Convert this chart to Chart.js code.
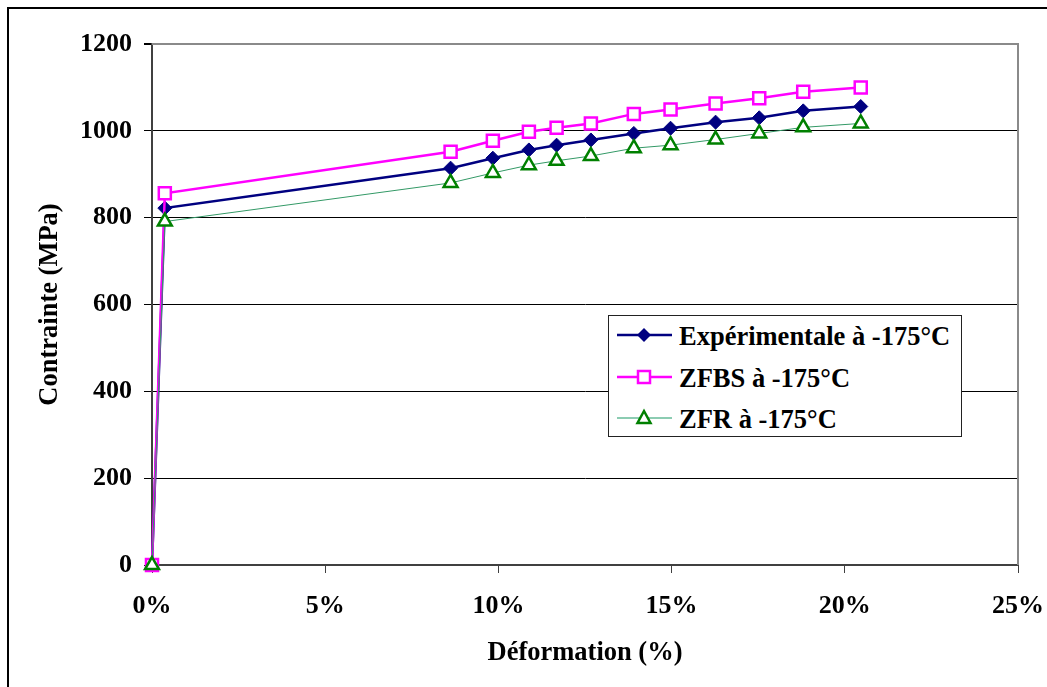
<!DOCTYPE html>
<html>
<head>
<meta charset="utf-8">
<script src="https://cdn.jsdelivr.net/npm/chart.js@4/dist/chart.umd.min.js"></script>
<style>
  html, body { margin: 0; padding: 0; background: #fff; overflow: hidden; }
  #wrap { position: relative; width: 1047px; height: 687px; }
  #frame { position: absolute; left: 7px; top: 7px; width: 1100px; height: 700px; border: 2px solid #000; box-sizing: border-box; pointer-events: none; }
  canvas { position: absolute; left: 0; top: 0; }
  #legend { position: absolute; left: 608px; top: 315px; width: 354px; height: 122px; box-sizing: border-box; border: 1px solid #222; background: #fff; font-family: "Liberation Serif", "Times New Roman", serif; font-weight: bold; font-size: 26.5px; color: #000; }
  .row { position: absolute; left: 0; width: 100%; }
  .row svg { position: absolute; left: 0; top: 0; }
  .row span { position: absolute; left: 70px; line-height: 26.5px; white-space: nowrap; }
</style>
</head>
<body>
<div id="wrap">
  <canvas id="c" width="1047" height="687"></canvas>
  <div id="frame"></div>
  <div id="legend"></div>
</div>
<script>
// ---- Data ----
const strain = [0, 0.37, 8.62, 9.84, 10.88, 11.68, 12.67, 13.91, 14.97, 16.27, 17.53, 18.80, 20.46];
const expValues = [0, 822, 914, 937, 956, 967, 979, 994, 1006, 1020, 1030, 1046, 1056];
const zfbsValues = [0, 856, 952, 977, 998, 1007, 1017, 1039, 1049, 1063, 1075, 1090, 1100];
const zfrValues = [0, 791, 880, 903, 921, 931, 942, 960, 967, 980, 994, 1008, 1017];
const seriesNames = ["Expérimentale à -175°C", "ZFBS à -175°C", "ZFR à -175°C"];
const xTickValues = [0, 5, 10, 15, 20, 25];
const yTickValues = [0, 200, 400, 600, 800, 1000, 1200];
const xTitle = "Déformation (%)";
const yTitle = "Contrainte (MPa)";

const FONT = '"Liberation Serif", "Times New Roman", serif';
const toPts = (ys) => ys.map((y, i) => ({ x: strain[i], y: y }));

const frame = {
  id: 'frame',
  beforeDatasetsDraw(chart) {
    const { ctx, chartArea: a } = chart;
    ctx.save();
    ctx.strokeStyle = '#8a8a8a';
    ctx.lineWidth = 2;
    ctx.beginPath();
    ctx.moveTo(a.left, a.top);
    ctx.lineTo(a.right, a.top);
    ctx.lineTo(a.right, a.bottom);
    ctx.stroke();
    ctx.restore();
  }
};

new Chart(document.getElementById('c'), {
  type: 'line',
  data: {
    datasets: [
      {
        label: seriesNames[0], data: toPts(expValues), order: 3,
        borderColor: '#000080', borderWidth: 2.5, tension: 0,
        pointStyle: 'rectRot', pointRadius: 7, pointBackgroundColor: '#000080',
        pointBorderColor: '#000080', pointBorderWidth: 1, clip: false
      },
      {
        label: seriesNames[1], data: toPts(zfbsValues), order: 2,
        borderColor: '#ff00ff', borderWidth: 2.5, tension: 0,
        pointStyle: 'rect', pointRadius: 8.5, pointBackgroundColor: '#ffffff',
        pointBorderColor: '#ff00ff', pointBorderWidth: 2.5, clip: false
      },
      {
        label: seriesNames[2], data: toPts(zfrValues), order: 1,
        borderColor: '#339966', borderWidth: 1, tension: 0,
        pointStyle: 'triangle', pointRadius: 8, pointBackgroundColor: '#ffffff',
        pointBorderColor: '#008000', pointBorderWidth: 2.5, clip: false
      }
    ]
  },
  options: {
    responsive: false,
    animation: false,
    devicePixelRatio: 1,
    layout: { padding: { left: 0, top: 44, right: 29, bottom: 0 } },
    plugins: { legend: { display: false }, tooltip: { enabled: false } },
    scales: {
      x: {
        type: 'linear', min: 0, max: 25,
        afterFit(s) { s.height = 122; s.paddingLeft = 0; s.paddingRight = 0; },
        afterBuildTicks(s) { s.ticks = xTickValues.map(v => ({ value: v })); },
        ticks: { callback: v => v + '%', color: '#000', padding: 18, font: { family: FONT, size: 26, weight: 'bold' }, maxRotation: 0 },
        grid: { drawOnChartArea: false, drawTicks: true, tickLength: 8, color: '#404040', tickColor: '#404040' },
        border: { display: true, color: '#404040', width: 2 },
        title: { display: true, text: xTitle, color: '#000', font: { family: FONT, size: 26.5, weight: 'bold' }, padding: { top: 0, bottom: 18 } }
      },
      y: {
        type: 'linear', min: 0, max: 1200,
        afterFit(s) { s.width = 152; s.paddingTop = 0; s.paddingBottom = 0; },
        afterBuildTicks(s) { s.ticks = yTickValues.map(v => ({ value: v })); },
        ticks: { callback: v => String(v), color: '#000', padding: 12, font: { family: FONT, size: 26, weight: 'bold' } },
        grid: {
          drawTicks: true, tickLength: 8, tickColor: '#000',
          color: c => (c.tick && c.tick.value === 1200) ? '#8a8a8a' : '#000',
          lineWidth: c => (c.tick && c.tick.value === 1200) ? 2 : 1
        },
        border: { display: true, color: '#404040', width: 2 },
        title: { display: true, text: yTitle, color: '#000', font: { family: FONT, size: 26.5, weight: 'bold' }, padding: { top: 34, bottom: 0 } }
      }
    }
  },
  plugins: [frame]
});

// ---- Legend (HTML) ----
const legendRows = [
  { name: seriesNames[0], top: 7, cy: 19,
    svg: '<line x1="8" y1="12" x2="63" y2="12" stroke="#000080" stroke-width="2.5"/><polygon points="35,5 42,12 35,19 28,12" fill="#000080"/>' },
  { name: seriesNames[1], top: 49, cy: 61,
    svg: '<line x1="8" y1="12" x2="63" y2="12" stroke="#ff00ff" stroke-width="2.5"/><rect x="29" y="6" width="12" height="12" fill="#fff" stroke="#ff00ff" stroke-width="2.5"/>' },
  { name: seriesNames[2], top: 90, cy: 102,
    svg: '<line x1="8" y1="12" x2="63" y2="12" stroke="#66bb99" stroke-width="1.5"/><polygon points="35,5 41.5,17 28.5,17" fill="#fff" stroke="#008000" stroke-width="2.5"/>' }
];
const lg = document.getElementById('legend');
legendRows.forEach(r => {
  const row = document.createElement('div');
  row.className = 'row';
  row.style.top = (r.cy - 12) + 'px';
  row.innerHTML = '<svg width="70" height="24">' + r.svg + '</svg>';
  const sp = document.createElement('span');
  sp.textContent = r.name;
  sp.style.top = (r.top - (r.cy - 12)) + 'px';
  row.appendChild(sp);
  lg.appendChild(row);
});
</script>
</body>
</html>
